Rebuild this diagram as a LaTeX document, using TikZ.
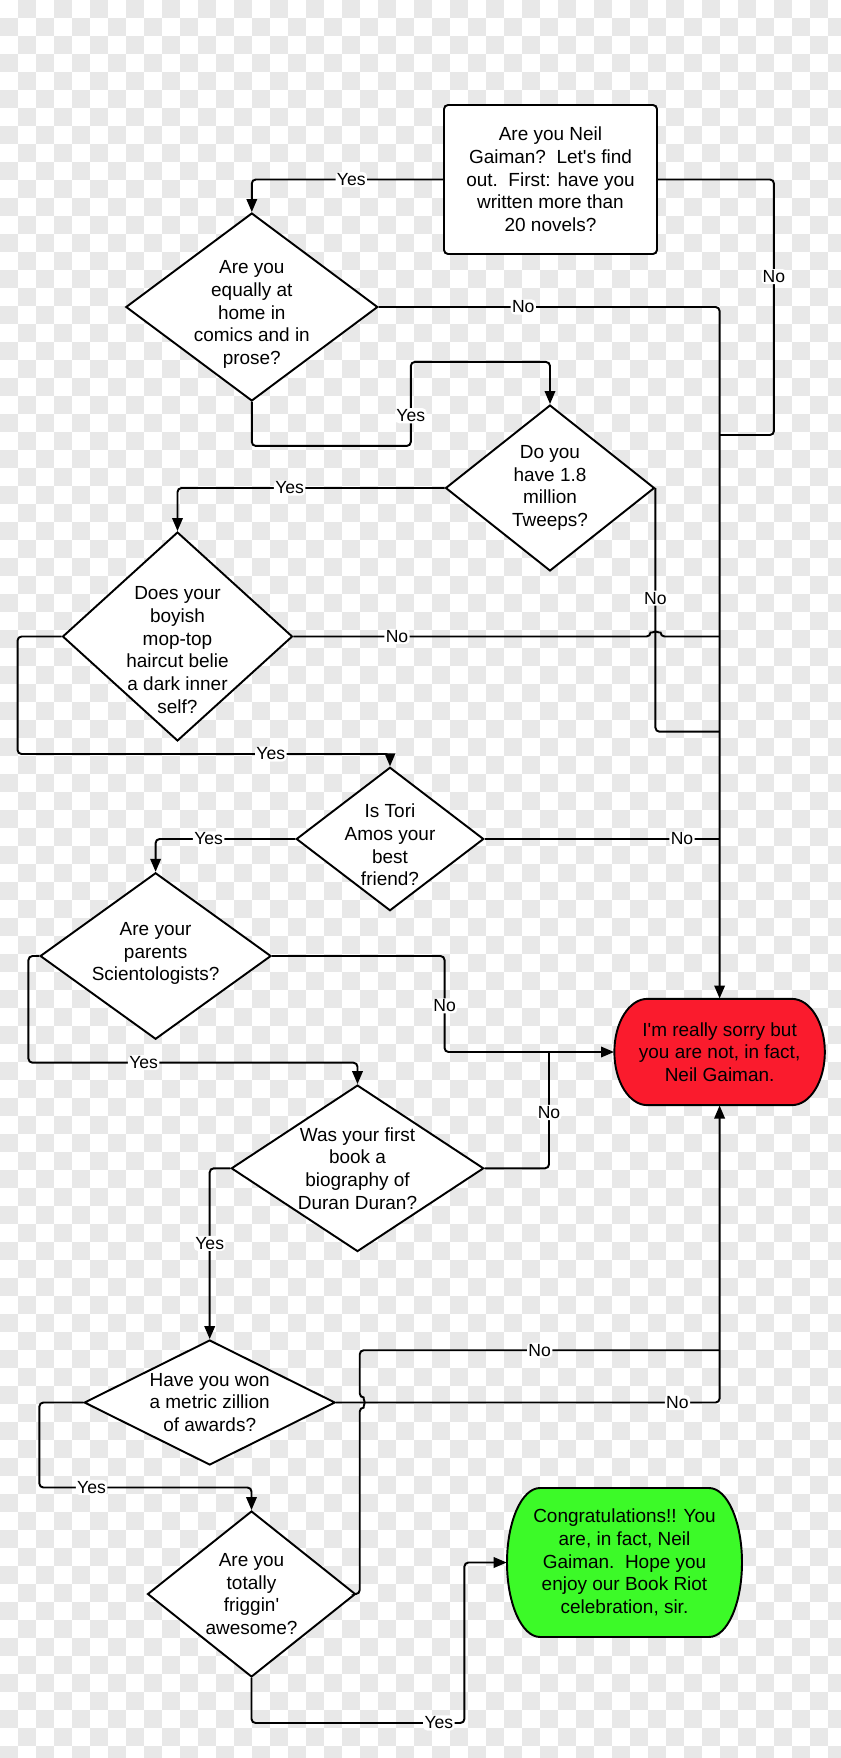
\documentclass[tikz,border=0pt]{standalone}
\usepackage{fontspec}
\setmainfont{Liberation Sans}
\usetikzlibrary{shapes.geometric,arrows.meta}
\definecolor{checkgray}{RGB}{232,232,232}
\definecolor{nored}{RGB}{250,27,45}
\definecolor{yesgreen}{RGB}{60,250,40}
\tikzset{
  qtext/.style={align=center, font=\fontsize{10.8}{12.9}\selectfont},
  decision/.style={diamond, draw, line width=1.1pt, fill=white, inner sep=0pt},
  startbox/.style={rectangle, draw, line width=1.1pt, fill=white, rounded corners=0.08cm,
    minimum width=4.26cm, minimum height=2.98cm, qtext},
  endshape/.style={draw, line width=1.1pt},
  endtext/.style={rectangle, inner sep=0pt, qtext},
  flow/.style={line width=1.1pt, rounded corners=0.08cm},
  arrow/.style={flow, -{Triangle[length=0.26cm, width=0.21cm]}},
  answer/.style={font=\fontsize{10}{12}\selectfont, fill=white, inner sep=0.8pt},
}
\begin{document}
\begin{tikzpicture}[x=0.02cm, y=0.02cm]
            \useasboundingbox (0,0) rectangle (840,-1758);
            \foreach \j in {0,2,...,96}
                \foreach \i in {1,3,...,45}
                    \fill[checkgray] (18*\i,-18*\j) rectangle ++(18,-18);
            \foreach \j in {1,3,...,97}
                \foreach \i in {0,2,...,46}
                    \fill[checkgray] (18*\i,-18*\j) rectangle ++(18,-18);

            \node[startbox] (start) at (550.5,-179.5) {Are you Neil\\Gaiman?\ \ Let\textquotesingle s find\\out.\ \ First: have you\\written more than\\20 novels?};
            \node[decision, minimum width=5.04cm, minimum height=3.76cm,
                label={[qtext, yshift=-0.15cm]center:Are you\\equally at\\home in\\comics and in\\prose?}] (d1) at (251.8,-307) {};
            \node[decision, minimum width=4.18cm, minimum height=3.32cm,
                label={[qtext]center:Do you\\have 1.8\\million\\Tweeps?}] (d2) at (550,-488) {};
            \node[decision, minimum width=4.6cm, minimum height=4.18cm,
                label={[qtext, yshift=-0.27cm]center:Does your\\boyish\\mop-top\\haircut belie\\a dark inner\\self?}] (d3) at (177.5,-636.5) {};
            \node[decision, minimum width=3.75cm, minimum height=2.87cm,
                label={[qtext, yshift=-0.12cm]center:Is Tori\\Amos your\\best\\friend?}] (d4) at (390,-839) {};
            \node[decision, minimum width=4.62cm, minimum height=3.33cm,
                label={[qtext, yshift=0.05cm]center:Are your\\parents\\Scientologists?}] (d5) at (155.6,-956) {};
            \node[decision, minimum width=5.05cm, minimum height=3.33cm,
                label={[qtext]center:Was your first\\book a\\biography of\\Duran Duran?}] (d6) at (357.5,-1168.3) {};
            \node[decision, minimum width=5.02cm, minimum height=2.5cm,
                label={[qtext]center:Have you won\\a metric zillion\\of awards?}] (d7) at (209.7,-1402.5) {};
            \node[decision, minimum width=4.16cm, minimum height=3.32cm,
                label={[qtext]center:Are you\\totally\\friggin\textquotesingle\\awesome?}] (d8) at (251.5,-1594) {};

            \coordinate (redc) at (719.6,-1052);
            \draw[endshape, fill=nored] (redc) ++(-72.25,53.15) -- ++(144.5,0)
                arc[start angle=90, end angle=-90, x radius=0.66cm, y radius=1.063cm] -- ++(-144.5,0)
                arc[start angle=270, end angle=90, x radius=0.66cm, y radius=1.063cm] -- cycle;
            \node[endtext, minimum width=4.21cm, minimum height=2.126cm] (red) at (redc) {I\textquotesingle m really sorry but\\you are not, in fact,\\Neil Gaiman.};
            \coordinate (greenc) at (624.5,-1562.5);
            \draw[endshape, fill=yesgreen] (greenc) ++(-84.5,74.5) -- ++(169,0)
                arc[start angle=90, end angle=-90, x radius=0.66cm, y radius=1.49cm] -- ++(-169,0)
                arc[start angle=270, end angle=90, x radius=0.66cm, y radius=1.49cm] -- cycle;
            \node[endtext, minimum width=4.7cm, minimum height=2.98cm] (green) at (greenc) {Congratulations!! You\\are, in fact, Neil\\Gaiman.\ \ Hope you\\enjoy our Book Riot\\celebration, sir.};

            \coordinate (j1) at (719.6,-435);
            \coordinate (j2) at (719.6,-731.7);
            \coordinate (j3) at (719.6,-636.5);
            \coordinate (j4) at (719.6,-839);
            \coordinate (j6) at (549,-1052);
            \coordinate (j8) at (719.6,-1350.2);

            \draw[arrow] (start.west) -| (d1.north) node[answer, pos=0.24] {Yes};
            \draw[flow] (start.east) -- ++(116,0) |- (j1) node[answer, pos=0.19] {No};
            \draw[arrow] (d1.east) -| (red.north) node[answer, pos=0.212] {No};
            \draw[arrow] (d1.south) -- ++(0,-44) -| ++(159,84) node[answer, pos=0.68] {Yes} -| (d2.north);
            \draw[arrow] (d2.west) -| (d3.north) node[answer, pos=0.29] {Yes};
            \draw[flow] (d2.east) |- (j2) node[answer, pos=0.226] {No};
            \draw[flow] (d3.east) -- ++(357.1,0) node[answer, pos=0.29] {No}
                arc[start angle=180, end angle=0, radius=0.1cm] -- (j3);
            \draw[arrow] (d3.west) -| ++(-44,-117.5) -| (d4.north) node[answer, pos=0.34] {Yes};
            \draw[flow] (d4.east) -- (j4) node[answer, pos=0.84] {No};
            \draw[arrow] (d4.west) -| (d5.north) node[answer, pos=0.31] {Yes};
            \draw[arrow] (d5.east) -- ++(172.5,0) |- (red.west) node[answer, pos=0.26] {No};
            \draw[arrow] (d5.west) -| ++(-10.7,-106.7) -| (d6.north) node[answer, pos=0.175] {Yes};
            \draw[flow] (d6.east) -| (j6) node[answer, pos=0.74] {No};
            \draw[arrow] (d6.west) -| (d7.north) node[answer, pos=0.72] {Yes};
            \draw[arrow] (d7.east) -| (red.south) node[answer, pos=0.445] {No};
            \draw[flow] (d8.east) -- ++(3.3,0) -- ++(0,186.5)
                arc[start angle=-90, end angle=90, radius=0.1cm] |- (j8) node[answer, pos=0.75] {No};
            \draw[arrow] (d7.west) -| ++(-43.9,-85) -| (d8.north) node[answer, pos=0.123] {Yes};
            \draw[arrow] (d8.south) |- ++(212.9,-45) node[answer, pos=0.94] {Yes} |- (green.west);
        \end{tikzpicture}
\end{document}
